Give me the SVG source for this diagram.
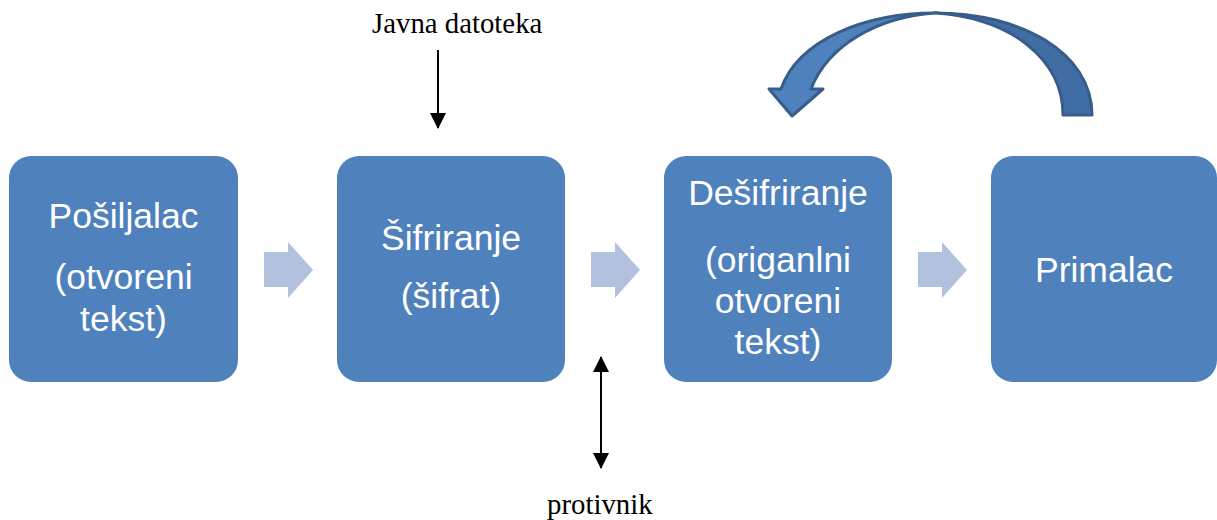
<svg xmlns="http://www.w3.org/2000/svg" width="1217" height="520" viewBox="0 0 1217 520">
<defs>
<style>
.box{fill:#4F81BD;}
.bt{font-family:"Liberation Sans",Arial,sans-serif;font-size:35.5px;fill:#FFFFFF;text-anchor:middle;}
.chev{fill:#B2C1DE;}
.lbl{font-family:"Liberation Serif","Times New Roman",serif;font-size:28.8px;fill:#000000;}
.ln{stroke:#000000;stroke-width:2;fill:none;}
</style>
<marker id="ah" markerWidth="16" markerHeight="16" refX="15" refY="8" orient="auto-start-reverse" markerUnits="userSpaceOnUse" viewBox="0 0 16 16">
<path d="M0,0 L16,8 L0,16 Z" fill="#000"/>
</marker>
</defs>
<rect width="1217" height="520" fill="#FFFFFF"/>

<g id="node-posiljalac">
<rect class="box" x="9" y="156" width="229" height="226" rx="22" ry="22"/>
<text class="bt" x="123.5" y="228">Pošiljalac</text>
<text class="bt" x="123.5" y="289">(otvoreni</text>
<text class="bt" x="123.5" y="331">tekst)</text>
</g>

<g id="node-sifriranje">
<rect class="box" x="337" y="156" width="228" height="226" rx="22" ry="22"/>
<text class="bt" x="451" y="250">Šifriranje</text>
<text class="bt" x="451" y="308">(šifrat)</text>
</g>

<g id="node-desifriranje">
<rect class="box" x="664" y="156" width="228" height="226" rx="22" ry="22"/>
<text class="bt" x="778" y="205">Dešifriranje</text>
<text class="bt" x="778" y="272">(origanlni</text>
<text class="bt" x="778" y="313">otvoreni</text>
<text class="bt" x="778" y="354">tekst)</text>
</g>

<g id="node-primalac">
<rect class="box" x="991" y="156" width="226" height="226" rx="22" ry="22"/>
<text class="bt" x="1104" y="282">Primalac</text>
</g>

<g id="connectors">
<path class="chev" d="M264,252 H288 V242 L313,270 L288,298 V287 H264 Z"/>
<path class="chev" d="M591,252 H615 V242 L640,270 L615,298 V287 H591 Z"/>
<path class="chev" d="M918,252 H942 V242 L967,270 L942,298 V287 H918 Z"/>

<g id="curved-arrow" stroke="#385D8A" stroke-width="3" stroke-linejoin="round">
<path d="M1092,115 C1092,52 1020,13 935,13 C1012,18 1063,60 1063,115 Z" fill="#416DA5"/>
<path d="M781,89 C798,40 865,13 935,13 C878,17 828,45 811,89 L823,89 L792,116 L769,89 Z" fill="#4F81BD"/>
</g>

<line class="ln" x1="438" y1="50" x2="438" y2="128" marker-end="url(#ah)"/>
<line class="ln" x1="601" y1="357" x2="601" y2="468" marker-start="url(#ah)" marker-end="url(#ah)"/>
</g>

<g id="labels">
<text class="lbl" x="372" y="33">Javna datoteka</text>
<text class="lbl" x="547" y="514">protivnik</text>
</g>
</svg>
